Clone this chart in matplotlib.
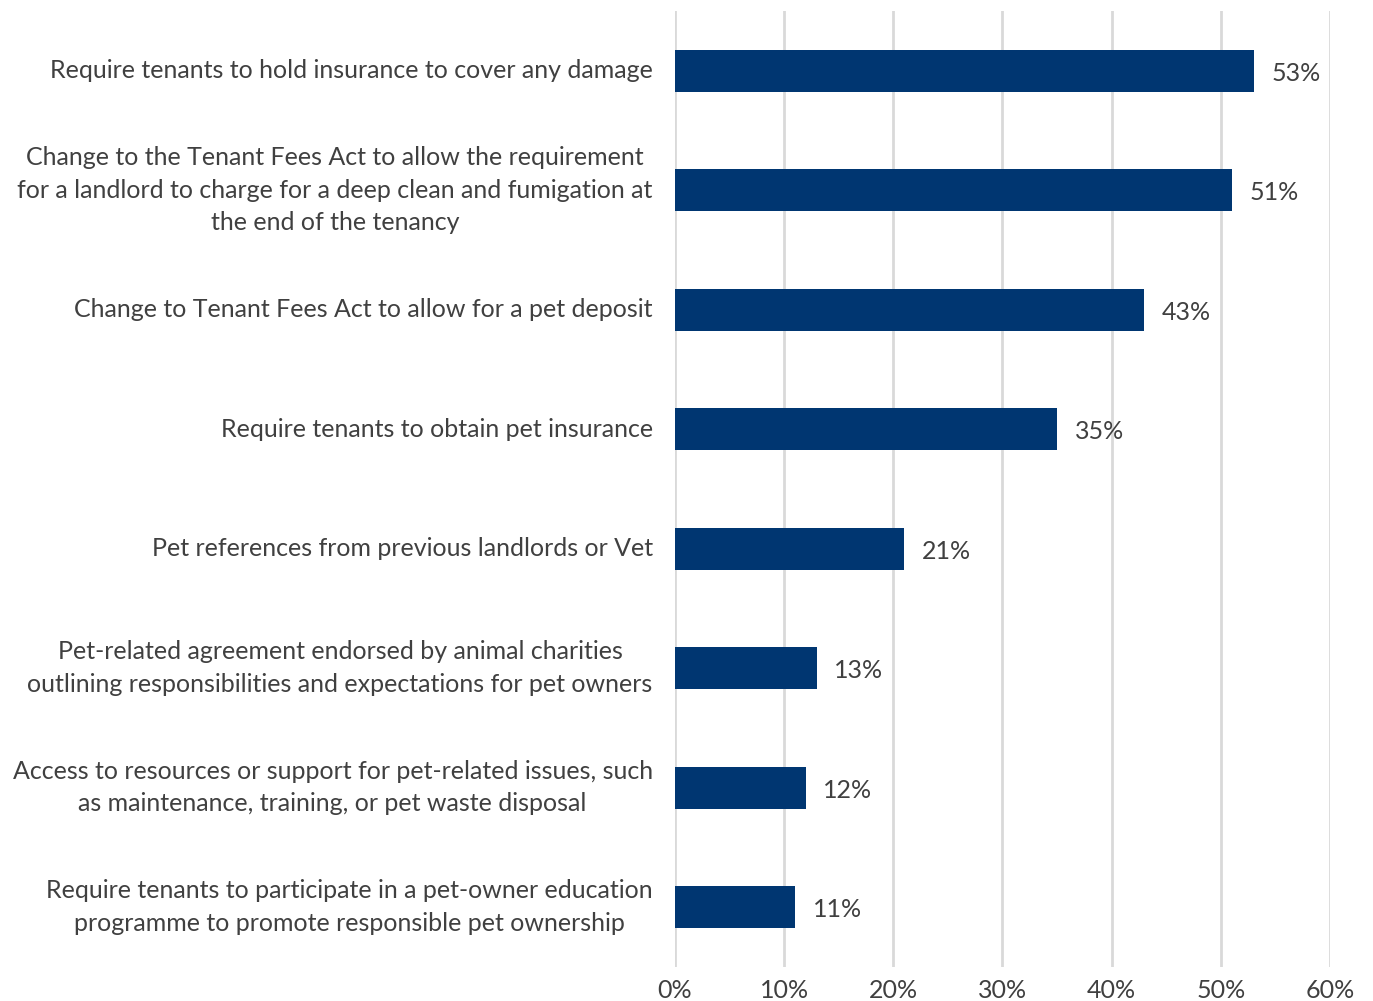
import matplotlib
matplotlib.use('Agg')
from matplotlib import pyplot as plt

plt.rcParams['font.family'] = ['Lato', 'DejaVu Sans']

labels = [
    'Require tenants to hold insurance to cover any damage',
    'Change to the Tenant Fees Act to allow the requirement\nfor a landlord to charge for a deep clean and fumigation at\nthe end of the tenancy',
    'Change to Tenant Fees Act to allow for a pet deposit',
    'Require tenants to obtain pet insurance',
    'Pet references from previous landlords or Vet',
    'Pet-related agreement endorsed by animal charities\noutlining responsibilities and expectations for pet owners',
    'Access to resources or support for pet-related issues, such\nas maintenance, training, or pet waste disposal',
    'Require tenants to participate in a pet-owner education\nprogramme to promote responsible pet ownership',
]
values = [53, 51, 43, 35, 21, 13, 12, 11]
xticks = [0, 10, 20, 30, 40, 50, 60]

bar_color = '#003671'
text_color = '#404040'

fig = plt.figure(figsize=(13.73, 10.01), dpi=100)
ax = fig.add_axes([0.4916, 0.034, 0.4771, 0.955])

pos = list(range(len(labels)))
ax.barh(pos, values, height=0.35, color=bar_color, zorder=3)
for p, v in zip(pos, values):
    ax.text(v + 1.6, p + 0.02, f'{v}%', va='center', ha='left', fontsize=18, color=text_color)

# category labels: block right aligned, lines centred
for p, lab in zip(pos, labels):
    ax.annotate(lab, xy=(0, p), xycoords=('axes fraction', 'data'),
                xytext=(-16, 0), textcoords='offset points',
                ha='right', va='center', multialignment='center',
                fontsize=18, color=text_color, linespacing=1.5)

ax.set_ylim(len(labels) - 0.5, -0.5)
ax.set_xlim(0, 60)
ax.set_xticks(xticks)
ax.set_xticklabels([f'{t}%' for t in xticks], fontsize=18, color=text_color)
ax.set_yticks([])
ax.tick_params(axis='x', length=0, pad=9)
ax.grid(axis='x', color='#d9d9d9', linewidth=2, zorder=0)
for s in ax.spines.values():
    s.set_visible(False)

plt.savefig('out.png', dpi=100)
